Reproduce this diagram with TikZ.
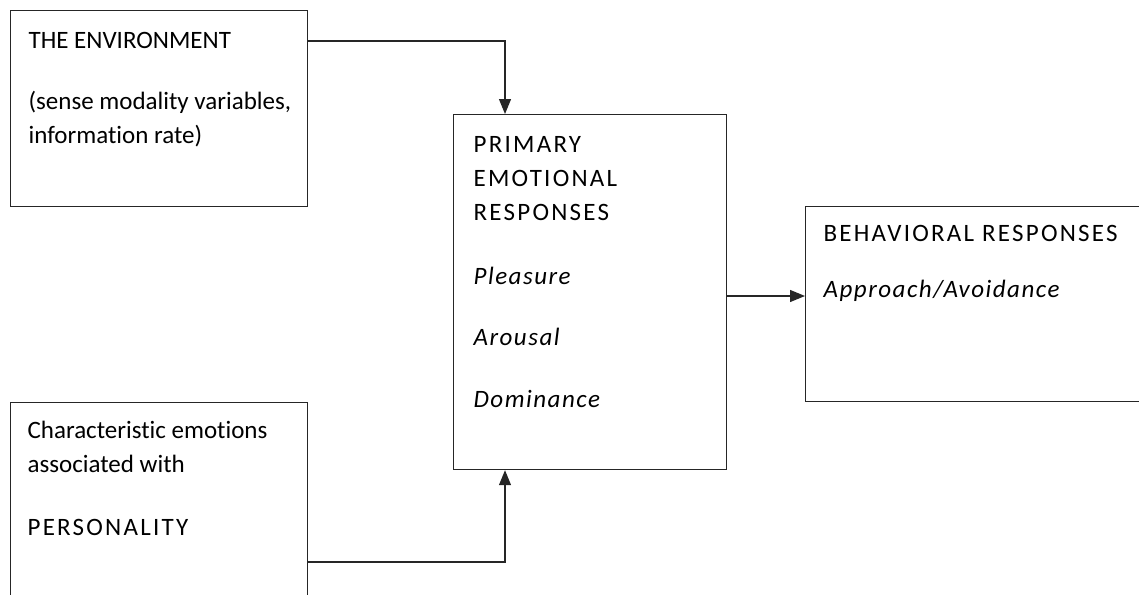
\documentclass[tikz,border=0pt]{standalone}
\usepackage{fontspec}
\setmainfont{Carlito}[Ligatures=NoCommon,ItalicFeatures={LetterSpace=6}]
\newfontfamily\capsfont{Carlito}[LetterSpace=9]     %wide screen caps.
\usetikzlibrary{arrows.meta}                         %filled triangle arrow heads.

\begin{document}
\begin{tikzpicture}[x=1pt,y=-1pt,line width=1.2pt]

% Define sizes of the boxes (in px of the page).
\def\bw{297}        %Width of the left boxes.
\def\bh{196}        %Height of the left boxes.
\def\mw{273}        %Width of the middle box.
\def\mh{355}        %Height of the middle box.
\def\fs{\fontsize{25}{34}\selectfont}

\tikzset{
  box/.style={draw=black!85,rectangle,inner sep=0pt,anchor=north west},
  txt/.style={anchor=base west,align=left,inner sep=0pt,font=\fs},
  link/.style={draw=black!85,-{Triangle[length=15pt,width=12pt]}}
}

\useasboundingbox (0,0) rectangle (1139,594);

% Boxes
\node[box,minimum width=\bw pt,minimum height=\bh pt] (env) at (10,10) {};
\node[box,minimum width=\mw pt,minimum height=\mh pt] (primary) at (453,114) {};
\node[box,minimum width=\bw pt,minimum height=210pt] (pers) at (10,402) {};
\node[box,minimum width=345pt,minimum height=195pt] (behav) at (805,206) {};

% Texts (anchored at the baseline of their last line)
\node[txt] (envtext) at (28,143) {THE ENVIRONMENT\\[27pt](sense modality variables,\\information rate)};
\node[txt] (primtext) at (473,407) {{\capsfont PRIMARY}\\{\capsfont EMOTIONAL}\\{\capsfont RESPONSES}\\[30pt]\textit{Pleasure}\\[27pt]\textit{Arousal}\\[28pt]\textit{Dominance}};
\node[txt] (perstext) at (27,535) {Characteristic emotions\\associated with\\[29pt]{\capsfont PERSONALITY}};
\node[txt] (behavtext) at (823,297) {{\capsfont BEHAVIORAL RESPONSES}\\[22pt]\textit{Approach/Avoidance}};

% Connector end points
\coordinate (envout) at ([yshift=-31pt]env.north east);
\coordinate (primin) at ([xshift=52pt]primary.north west);
\coordinate (persout) at ([yshift=-160pt]pers.north east);
\coordinate (primbot) at ([xshift=52pt]primary.south west);
\coordinate (primout) at ([yshift=-182pt]primary.north east);

% Arrows
\draw[link] (envout) -| (primin);
\draw[link] (persout) -| (primbot);
\draw[link] (primout) -- (primout -| behav.west);

\end{tikzpicture}
\end{document}
